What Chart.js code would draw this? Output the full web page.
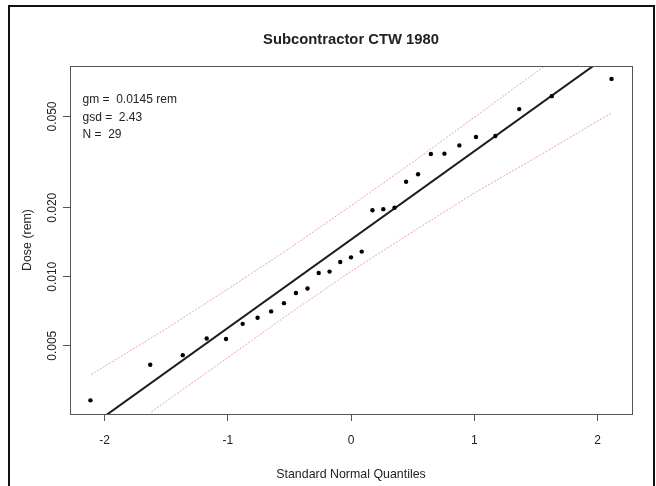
<!DOCTYPE html>
<html>
<head>
<meta charset="utf-8">
<script src="https://cdn.jsdelivr.net/npm/chart.js@4.4.1/dist/chart.umd.min.js"></script>
<style>
  html, body { margin: 0; padding: 0; background: #fff; }
  #wrap { position: relative; width: 656px; height: 486px; overflow: hidden; }
  #frame { position: absolute; left: 8px; top: 5px; width: 647px; height: 600px; border: 2px solid #111; box-sizing: border-box; }
  canvas { position: absolute; left: 0; top: 0; }
</style>
</head>
<body>
<div id="wrap">
  <div id="frame"></div>
  <canvas id="qq" width="656" height="486"></canvas>
</div>
<script>
// ======================================================
// DATA
// ======================================================
const chartTitle = "Subcontractor CTW 1980";
const xTitle = "Standard Normal Quantiles";
const yTitle = "Dose (rem)";
const statLines = ["gm =  0.0145 rem", "gsd =  2.43", "N =  29"];

// normal quantiles of the 29 samples
const zQuantiles = [-2.114, -1.629, -1.365, -1.171, -1.014, -0.879, -0.758, -0.648, -0.544, -0.447,
    -0.353, -0.262, -0.174, -0.087, 0, 0.087, 0.174, 0.262, 0.353, 0.447,
    0.544, 0.648, 0.758, 0.879, 1.014, 1.171, 1.365, 1.629, 2.114];
// observed doses (rem)
const doses = [0.00289, 0.00413, 0.00455, 0.00538, 0.00535, 0.00623, 0.00662, 0.00706, 0.00767, 0.00850,
    0.00888, 0.01038, 0.01053, 0.01159, 0.01215, 0.01287, 0.01951, 0.01971, 0.01999, 0.02594,
    0.02797, 0.03431, 0.03442, 0.03740, 0.04069, 0.04110, 0.05384, 0.06133, 0.07291];

// fitted lognormal line (ends at the plot edges)
const fitZ = [-2.28, 2.28];
const fitDose = [0.00192, 0.1098];

// confidence envelope
const upperZ = [-2.11, -1.5, -1.0, -0.5, 0, 0.5, 1.0, 1.56];
const upperDose = [0.00374, 0.00593, 0.00883, 0.01329, 0.02039, 0.03156, 0.04955, 0.0822];
const lowerZ = [-1.62, -1.0, -0.5, 0, 0.5, 1.0, 1.5, 2.11];
const lowerDose = [0.002575, 0.00444, 0.0069, 0.01055, 0.01571, 0.02317, 0.0331, 0.05164];

// axes
const xTicks = [-2, -1, 0, 1, 2];
const xTickLabels = ["-2", "-1", "0", "1", "2"];
const yTicks = [0.005, 0.01, 0.02, 0.05];
const yTickLabels = ["0.005", "0.010", "0.020", "0.050"];
const xRange = [-2.28, 2.28];
const yRange = [0.00252, 0.083];

const FONT = "'Liberation Sans', Arial, sans-serif";
const AXIS_COLOR = "#555";
const BAND_COLOR = "#e89cbe";

const toXY = (xs, ys) => xs.map((x, i) => ({ x: x, y: ys[i] }));

// ======================================================
// R-STYLE TEXT + BOX
// ======================================================
const rStyle = {
    id: "rStyle",
    afterDraw(chart) {
        const ctx = chart.ctx;
        const a = chart.chartArea;
        const xs = chart.scales.x;
        const ys = chart.scales.y;

        ctx.save();
        // plot box
        ctx.strokeStyle = AXIS_COLOR;
        ctx.lineWidth = 1;
        ctx.strokeRect(Math.round(a.left) + 0.5, Math.round(a.top) + 0.5,
            Math.round(a.right - a.left), Math.round(a.bottom - a.top));

        ctx.fillStyle = "#222";
        ctx.textBaseline = "middle";

        // title
        ctx.font = "bold 14.8px " + FONT;
        ctx.textAlign = "center";
        ctx.fillText(chartTitle, (a.left + a.right) / 2, 40);

        // x tick labels + title
        ctx.font = "12px " + FONT;
        xTicks.forEach((v, i) => {
            ctx.fillText(xTickLabels[i], xs.getPixelForValue(v), 441);
        });
        ctx.font = "12.4px " + FONT;
        ctx.fillText(xTitle, (a.left + a.right) / 2, 475);

        // y tick labels (rotated like R)
        ctx.font = "12px " + FONT;
        yTicks.forEach((v, i) => {
            ctx.save();
            ctx.translate(53, ys.getPixelForValue(v));
            ctx.rotate(-Math.PI / 2);
            ctx.fillText(yTickLabels[i], 0, 0);
            ctx.restore();
        });
        ctx.font = "12.4px " + FONT;
        ctx.save();
        ctx.translate(28, (a.top + a.bottom) / 2);
        ctx.rotate(-Math.PI / 2);
        ctx.fillText(yTitle, 0, 0);
        ctx.restore();

        // stats text
        ctx.font = "12px " + FONT;
        ctx.textAlign = "left";
        statLines.forEach((t, i) => {
            ctx.fillText(t, 82.5, 100 + i * 17.5);
        });
        ctx.restore();
    }
};

// ======================================================
// CHART
// ======================================================
new Chart(document.getElementById("qq"), {
    type: "scatter",
    data: {
        datasets: [
            {
                data: toXY(zQuantiles, doses),
                pointRadius: 2.2,
                pointBackgroundColor: "#000",
                pointBorderWidth: 0,
                showLine: false
            },
            {
                data: toXY(fitZ, fitDose),
                showLine: true,
                borderColor: "#1c1c1c",
                borderWidth: 2,
                pointRadius: 0
            },
            {
                data: toXY(upperZ, upperDose),
                showLine: true,
                borderColor: BAND_COLOR,
                borderWidth: 1,
                borderDash: [2, 1.5],
                pointRadius: 0
            },
            {
                data: toXY(lowerZ, lowerDose),
                showLine: true,
                borderColor: BAND_COLOR,
                borderWidth: 1,
                borderDash: [2, 1.5],
                pointRadius: 0
            }
        ]
    },
    options: {
        responsive: false,
        animation: false,
        layout: { padding: { top: 66, right: 24, left: 0, bottom: 0 } },
        plugins: { legend: { display: false }, tooltip: { enabled: false } },
        scales: {
            x: {
                type: "linear",
                min: xRange[0],
                max: xRange[1],
                afterBuildTicks: s => { s.ticks = xTicks.map(v => ({ value: v })); },
                afterFit: s => { s.height = 72; },
                grid: { drawOnChartArea: false, tickLength: 7, color: AXIS_COLOR },
                border: { color: AXIS_COLOR },
                ticks: { display: false }
            },
            y: {
                type: "logarithmic",
                min: yRange[0],
                max: yRange[1],
                afterBuildTicks: s => { s.ticks = yTicks.map(v => ({ value: v })); },
                afterFit: s => { s.width = 70; },
                grid: { drawOnChartArea: false, tickLength: 7, color: AXIS_COLOR },
                border: { color: AXIS_COLOR },
                ticks: { display: false }
            }
        }
    },
    plugins: [rStyle]
});
</script>
</body>
</html>
